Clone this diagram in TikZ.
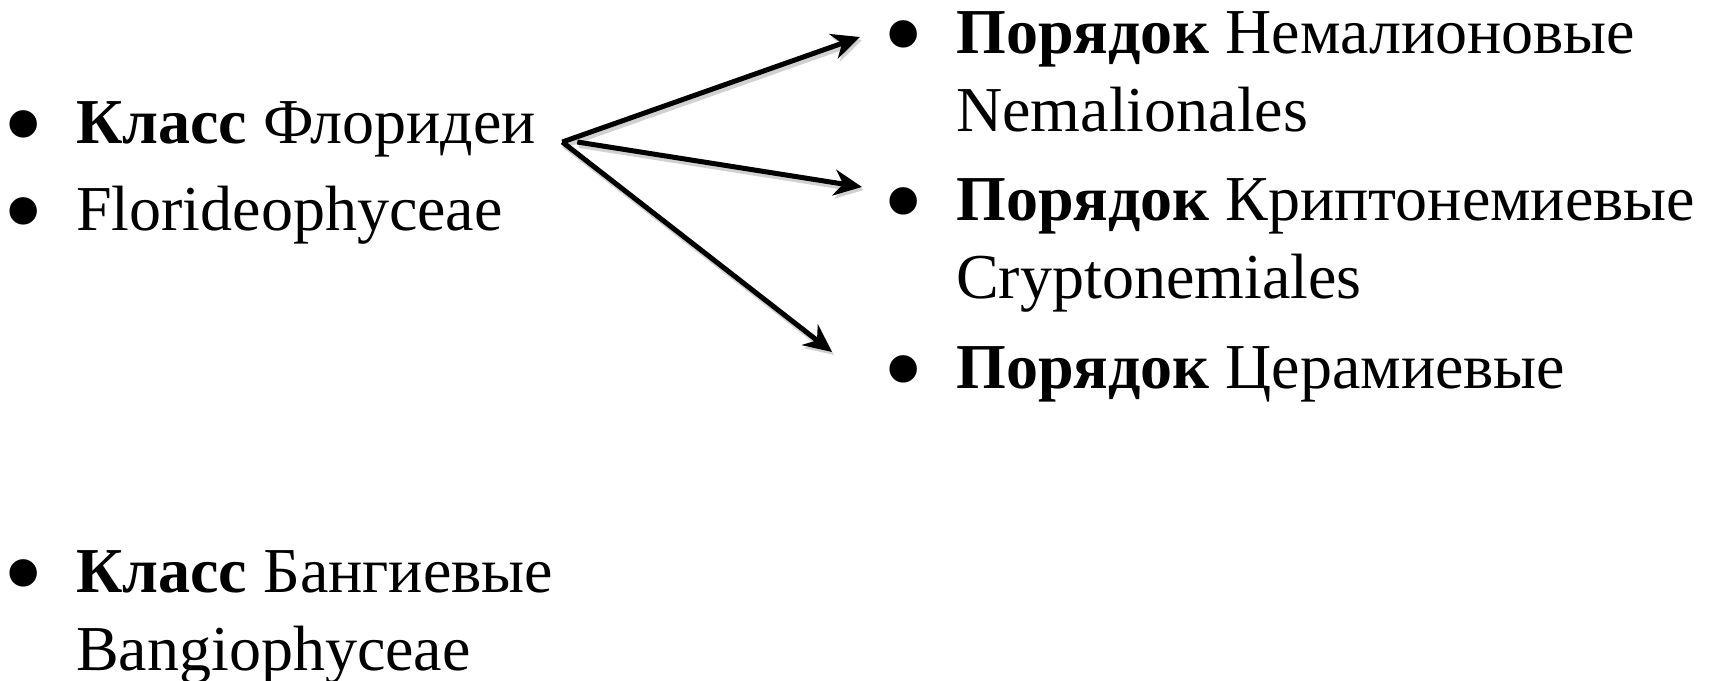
\documentclass[tikz,border=0pt]{standalone}
\usepackage{graphicx}
\usepackage{fontspec}
\setmainfont{Liberation Serif}
\usetikzlibrary{arrows.meta}

\newcommand{\bul}{\makebox[64pt][l]{\hspace*{-9pt}\raisebox{-19pt}{\scalebox{1.8}{•}}}}
\newcommand{\indnt}{\hspace*{64pt}}

\begin{document}
\begin{tikzpicture}[x=1pt, y=-1pt,
    item/.style={anchor=base west, inner sep=0pt, align=left, font=\fontsize{64pt}{78pt}\selectfont},
    arr/.style={line width=5pt, -{Stealth[length=28pt, width=26pt, inset=9pt]},
        preaction={draw=black!18, line width=6pt, transform canvas={shift={(2pt,-3pt)}}}}]
            \useasboundingbox (0,0) rectangle (1712,680);

            % two-line items sit on the baseline of their last line
            \node [item] (florid) at (12,143) {\bul\textbf{Класс} Флоридеи};
            \node [item] (floridlat) at (12,230) {\bul Florideophyceae};
            \node [item] (bangi) at (12,670) {\bul\textbf{Класс} Бангиевые\\\indnt Bangiophyceae};

            \node [item] (nemal) at (892,131) {\bul\textbf{Порядок} Немалионовые\\\indnt Nemalionales};
            \node [item] (crypto) at (892,298) {\bul\textbf{Порядок} Криптонемиевые\\\indnt Cryptonemiales};
            \node [item] (ceram) at (892,388) {\bul\textbf{Порядок} Церамиевые};

            \coordinate (fork) at ([xshift=26pt, yshift=1pt]florid.base east);

            \draw[arr] (fork) -- ([xshift=-32pt, yshift=94pt]nemal.base west);
            \draw[arr] ([xshift=15pt]fork) -- ([xshift=-30pt, yshift=111pt]crypto.base west);
            \draw[arr] (fork) -- ([xshift=-60pt, yshift=36pt]ceram.base west);
        \end{tikzpicture}
\end{document}
